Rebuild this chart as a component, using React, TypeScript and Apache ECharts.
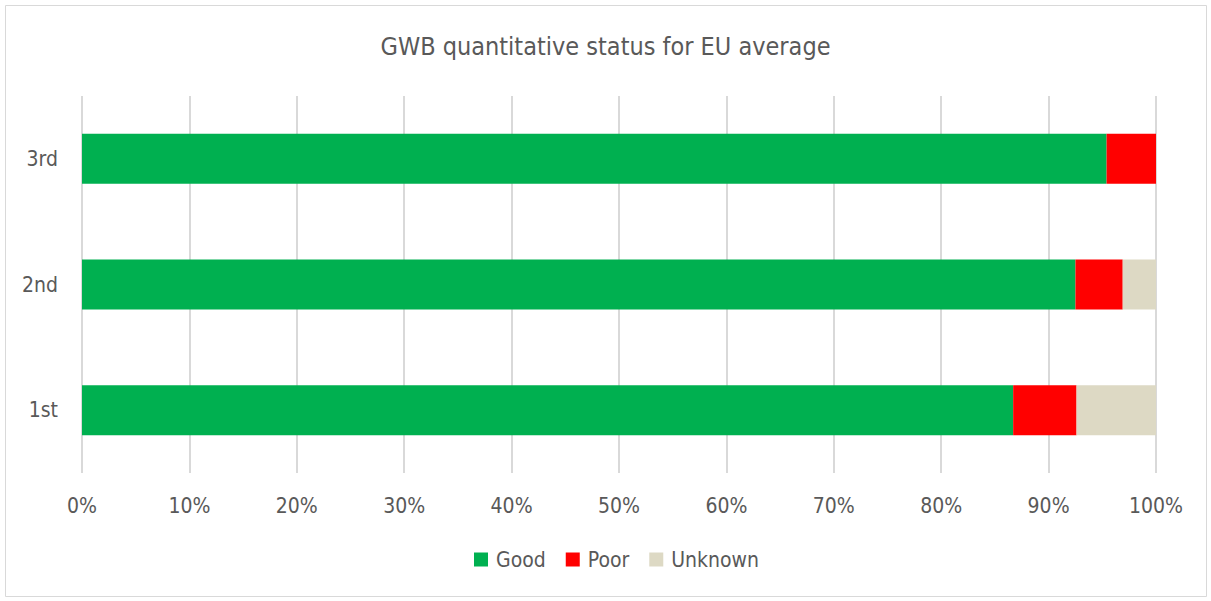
import React, { useEffect, useRef } from "react";
import * as echarts from "echarts";

const categories = ["1st", "2nd", "3rd"];
const goodValues = [86.7, 92.5, 95.4];
const poorValues = [5.9, 4.4, 4.6];
const unknownValues = [7.4, 3.1, 0];
const seriesNames = ["Good", "Poor", "Unknown"];
const seriesColors = ["#00B050", "#FF0000", "#DDD9C4"];
const titleText = "GWB quantitative status for EU average";

const FONT = "'DejaVu Sans Condensed', 'Liberation Sans Narrow', 'Noto Sans', sans-serif";

export default function App() {
  const ref = useRef<HTMLDivElement>(null);
  useEffect(() => {
    document.body.style.margin = "0";
    const chart = echarts.init(ref.current!, undefined, { renderer: "svg" });
    const data = [goodValues, poorValues, unknownValues];
    chart.setOption({
      animation: false,
      backgroundColor: "#ffffff",
      textStyle: { fontFamily: FONT, color: "#595959" },
      title: {
        text: titleText,
        left: "center",
        top: 29,
        textStyle: { fontFamily: FONT, fontSize: 25, fontWeight: "normal", color: "#595959" },
      },
      graphic: [
        {
          type: "rect",
          shape: { x: 5.5, y: 5.5, width: 1201, height: 591 },
          style: { fill: "none", stroke: "#D9D9D9", lineWidth: 1 },
          silent: true,
        },
      ],
      legend: {
        bottom: 26,
        left: 469,
        itemWidth: 14,
        itemHeight: 14,
        itemGap: 20,
        icon: "rect",
        textStyle: { fontFamily: FONT, fontSize: 21, color: "#595959", padding: [0, 0, 0, 3] },
        data: seriesNames,
      },
      grid: { left: 82, right: 55, top: 96, bottom: 128, containLabel: false },
      xAxis: {
        type: "value",
        min: 0,
        max: 100,
        interval: 10,
        axisLine: { show: false },
        axisTick: { show: false },
        splitLine: { show: true, lineStyle: { color: "#D9D9D9", width: 2 } },
        axisLabel: {
          formatter: "{value}%",
          margin: 22,
          fontFamily: FONT,
          fontSize: 21,
          color: "#595959",
        },
      },
      yAxis: {
        type: "category",
        data: categories,
        axisLine: { show: false },
        axisTick: { show: false },
        axisLabel: { margin: 24, fontFamily: FONT, fontSize: 21, color: "#595959" },
      },
      series: seriesNames.map((name, i) => ({
        name,
        type: "bar",
        stack: "total",
        barWidth: 50,
        itemStyle: { color: seriesColors[i] },
        data: data[i],
      })),
    });
    return () => chart.dispose();
  }, []);
  return <div ref={ref} style={{ width: 1211, height: 601 }} />;
}
